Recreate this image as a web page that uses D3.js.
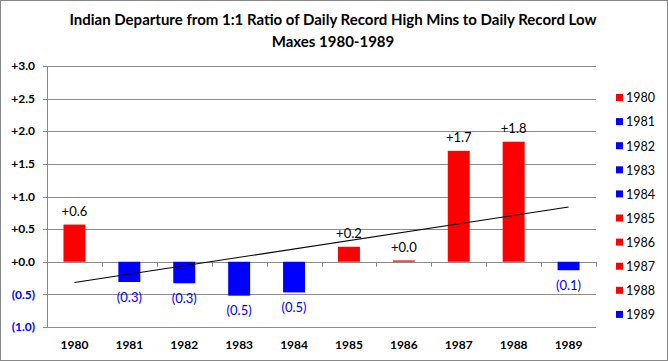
<!DOCTYPE html>
<html>
<head>
<meta charset="utf-8">
<script src="https://cdn.jsdelivr.net/npm/d3@7"></script>
<style>
  body { margin: 0; background: #fff; }
  svg { display: block; font-family: Lato, "Open Sans", sans-serif; }
</style>
</head>
<body>
<div class="container"></div>
<script>
const years = ["1980", "1981", "1982", "1983", "1984", "1985", "1986", "1987", "1988", "1989"];
const values = [0.57, -0.31, -0.33, -0.52, -0.47, 0.23, 0.02, 1.70, 1.84, -0.13];
const yTicks = [-1.0, -0.5, 0, 0.5, 1.0, 1.5, 2.0, 2.5, 3.0];
const titleLines = ["Indian Departure from 1:1 Ratio of Daily Record High Mins to Daily Record Low", "Maxes 1980-1989"];

const W = 668, H = 361;
const margin = {top: 66, right: 72, bottom: 34, left: 47};

const svg = d3.select('.container')
    .append('svg')
    .attr('width', W)
    .attr('height', H);

svg.append('rect')
    .attr('x', 0.5).attr('y', 0.5)
    .attr('width', W - 1).attr('height', H - 1)
    .attr('fill', '#fff').attr('stroke', '#888');

const xScale = d3.scaleBand()
    .domain(years)
    .range([margin.left, W - margin.right])
    .paddingInner(0.6)
    .paddingOuter(0.3);

const yScale = d3.scaleLinear()
    .domain([-1, 3])
    .range([H - margin.bottom, margin.top]);

const fmt = v => v < 0 ? '(' + Math.abs(v).toFixed(1) + ')' : '+' + Math.abs(v).toFixed(1);
const col = v => v < 0 ? '#0000ff' : '#ff0000';

// gridlines
svg.append('g')
    .selectAll('line')
    .data(yTicks)
    .join('line')
    .attr('x1', margin.left - 4)
    .attr('x2', W - margin.right)
    .attr('y1', d => Math.round(yScale(d)) + 0.5)
    .attr('y2', d => Math.round(yScale(d)) + 0.5)
    .attr('stroke', '#8c8c8c')
    .attr('stroke-width', 1);

// y axis line
svg.append('line')
    .attr('x1', margin.left + 0.5).attr('x2', margin.left + 0.5)
    .attr('y1', yScale(3)).attr('y2', yScale(-1))
    .attr('stroke', '#888');

// y labels
svg.append('g')
    .selectAll('text')
    .data(yTicks)
    .join('text')
    .attr('x', margin.left - 12)
    .attr('y', d => yScale(d))
    .attr('dy', '0.35em')
    .attr('text-anchor', 'end')
    .attr('font-size', 12)
    .attr('font-weight', 'bold')
    .attr('fill', d => d < 0 ? '#0000ff' : '#000')
    .text(d => fmt(d));

// x ticks at category boundaries on zero line
const xEdges = d3.range(years.length + 1).map(i => margin.left + i * (W - margin.right - margin.left) / years.length);
svg.append('g')
    .selectAll('line')
    .data(xEdges.slice(1))
    .join('line')
    .attr('x1', d => Math.round(d) + 0.5)
    .attr('x2', d => Math.round(d) + 0.5)
    .attr('y1', yScale(0))
    .attr('y2', yScale(0) + 5)
    .attr('stroke', '#888');

// bars
svg.append('g')
    .selectAll('rect')
    .data(values)
    .join('rect')
    .attr('x', (d, i) => xScale(years[i]))
    .attr('width', xScale.bandwidth())
    .attr('y', d => yScale(Math.max(0, d)))
    .attr('height', d => Math.abs(yScale(d) - yScale(0)))
    .attr('fill', d => col(d));

// trendline (least squares)
const n = values.length;
const mx = (n - 1) / 2;
const my = d3.mean(values);
const slope = d3.sum(values, (v, i) => (i - mx) * (v - my)) / d3.sum(values, (v, i) => (i - mx) * (i - mx));
const cx = i => xScale(years[i]) + xScale.bandwidth() / 2;
svg.append('line')
    .attr('x1', cx(0)).attr('y1', yScale(my - slope * mx))
    .attr('x2', cx(n - 1)).attr('y2', yScale(my + slope * mx))
    .attr('stroke', '#000').attr('stroke-width', 1.1);

// data labels
svg.append('g')
    .selectAll('text')
    .data(values)
    .join('text')
    .attr('x', (d, i) => cx(i))
    .attr('y', d => d < 0 ? yScale(d) + 15 : yScale(d) - 13)
    .attr('dy', '0.35em')
    .attr('text-anchor', 'middle')
    .attr('font-size', 13)
    .attr('fill', d => d < 0 ? '#0000ff' : '#000')
    .text(d => fmt(d));

// x labels
svg.append('g')
    .selectAll('text')
    .data(years)
    .join('text')
    .attr('x', (d, i) => cx(i))
    .attr('y', 345)
    .attr('dy', '0.35em')
    .attr('text-anchor', 'middle')
    .attr('font-size', 12)
    .attr('font-weight', 'bold')
    .text(d => d);

// title
svg.append('g')
    .selectAll('text')
    .data(titleLines)
    .join('text')
    .attr('x', 333)
    .attr('y', (d, i) => 20 + i * 22)
    .attr('dy', '0.35em')
    .attr('text-anchor', 'middle')
    .attr('font-size', 15)
    .attr('font-weight', 'bold')
    .text(d => d);

// legend
const legend = svg.append('g')
    .selectAll('g')
    .data(years)
    .join('g')
    .attr('transform', (d, i) => `translate(616, ${98 + i * 24.1})`);
legend.append('rect')
    .attr('x', 0).attr('y', -4)
    .attr('width', 7).attr('height', 7)
    .attr('fill', (d, i) => col(values[i]));
legend.append('text')
    .attr('x', 10)
    .attr('dy', '0.35em')
    .attr('font-size', 12.5)
    .text(d => d);
</script>
</body>
</html>
